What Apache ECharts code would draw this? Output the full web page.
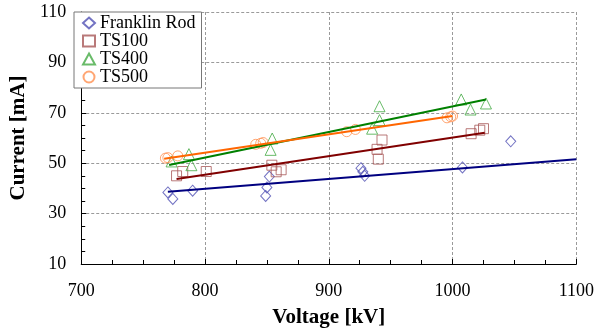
<!DOCTYPE html>
<html>
<head>
<meta charset="utf-8">
<script src="https://cdn.jsdelivr.net/npm/echarts@6/dist/echarts.min.js"></script>
<style>
html,body{margin:0;padding:0;background:#fff;}
#chart{width:597px;height:333px;}
</style>
</head>
<body>
<div id="chart"></div>
<script>
// ---- data (voltage kV, current mA) ----
const franklinV = [770, 774, 790, 849, 850, 852, 926, 927.5, 929, 1008, 1047];
const franklinI = [38.4, 35.8, 39.1, 37.0, 40.4, 44.7, 48.0, 46.6, 45.0, 48.3, 58.7];

const ts100V = [777, 782, 801, 854, 857.5, 861.5, 939, 940, 943, 1015, 1022, 1025];
const ts100I = [45.0, 46.7, 46.7, 49.2, 46.6, 47.4, 55.5, 51.6, 59.2, 61.7, 63.1, 63.7];

const ts400V = [773, 787, 789, 853, 854.3, 935, 941, 941, 1007, 1014.5, 1027];
const ts400I = [50.7, 53.6, 49.2, 55.3, 59.8, 63.7, 67.1, 72.6, 75.3, 71.3, 73.7];

const ts500V = [768, 770, 778, 841, 845, 847, 914.5, 921.5, 995.5, 998.5, 1000];
const ts500I = [52.0, 52.2, 52.9, 57.5, 57.9, 58.2, 62.5, 63.4, 68.0, 68.4, 68.7];

// trend lines (end points)
const franklinFitV = [770, 1100];
const franklinFitI = [38.7, 51.6];
const ts100FitV = [777, 1026];
const ts100FitI = [43.7, 62.1];
const ts400FitV = [771, 1027];
const ts400FitI = [49.3, 75.3];
const ts500FitV = [767, 1000];
const ts500FitI = [51.8, 68.7];

const seriesNames = ['Franklin Rod', 'TS100', 'TS400', 'TS500'];
const xTicks = [700, 800, 900, 1000, 1100];
const yTicks = [10, 30, 50, 70, 90, 110];

// ---- build ----
const zip = (a, b) => a.map((v, i) => [v, b[i]]);
const FONT = 'Liberation Serif';

const groups = [
  {name: seriesNames[0], v: franklinV, i: franklinI, fv: franklinFitV, fi: franklinFitI, symbol: 'diamond', size: [10, 11], mc: '#5050b4', lc: '#000080'},
  {name: seriesNames[1], v: ts100V, i: ts100I, fv: ts100FitV, fi: ts100FitI, symbol: 'rect', size: 10, mc: '#a85858', lc: '#800000'},
  {name: seriesNames[2], v: ts400V, i: ts400I, fv: ts400FitV, fi: ts400FitI, symbol: 'triangle', size: 11, mc: '#44aa44', lc: '#008000'},
  {name: seriesNames[3], v: ts500V, i: ts500I, fv: ts500FitV, fi: ts500FitI, symbol: 'circle', size: 10, mc: '#ff9050', lc: '#ff6600'}
];

const series = [];
groups.forEach(g => {
  series.push({
    name: g.name,
    type: 'scatter',
    symbol: g.symbol,
    symbolSize: g.size,
    data: zip(g.v, g.i),
    itemStyle: {color: 'rgba(255,255,255,0)', borderColor: g.mc, borderWidth: 1},
    z: 2,
    silent: true
  });
});
groups.forEach(g => {
  series.push({
    type: 'line',
    data: zip(g.fv, g.fi),
    showSymbol: false,
    symbol: 'none',
    lineStyle: {color: g.lc, width: 2},
    z: 3,
    silent: true
  });
});

const axisCommon = {
  axisLine: {show: true, lineStyle: {color: '#000', width: 1}},
  axisTick: {show: true, inside: true, length: 5, lineStyle: {color: '#000'}},
  minorTick: {show: true, splitNumber: 4, length: 4, lineStyle: {color: '#000'}},
  splitLine: {show: true, lineStyle: {color: '#9a9a9a', type: [3, 2], width: 1}},
  axisLabel: {color: '#000', fontFamily: FONT, fontSize: 18, formatter: v => String(v)},
  nameLocation: 'middle',
  nameTextStyle: {color: '#000', fontFamily: FONT, fontSize: 21, fontWeight: 'bold'}
};

const option = {
  animation: false,
  backgroundColor: '#fff',
  grid: {left: 74, right: 19, top: 12, bottom: 68, containLabel: false},
  legend: {
    show: true,
    data: seriesNames,
    orient: 'vertical',
    left: 74,
    top: 12,
    backgroundColor: '#fff',
    borderColor: '#777',
    borderWidth: 1,
    padding: [2, 6, 2, 8],
    itemGap: 0,
    itemWidth: 12,
    itemHeight: 11,
    textStyle: {color: '#000', fontFamily: FONT, fontSize: 18, lineHeight: 18},
    selectedMode: false
  },
  xAxis: Object.assign({}, axisCommon, {
    type: 'value',
    min: xTicks[0],
    max: xTicks[xTicks.length - 1],
    interval: xTicks[1] - xTicks[0],
    name: 'Voltage [kV]',
    nameGap: 43,
    axisLabel: Object.assign({}, axisCommon.axisLabel, {margin: 18})
  }),
  yAxis: Object.assign({}, axisCommon, {
    type: 'value',
    min: yTicks[0],
    max: yTicks[yTicks.length - 1],
    interval: yTicks[1] - yTicks[0],
    name: 'Current [mA]',
    nameGap: 47,
    axisLabel: Object.assign({}, axisCommon.axisLabel, {margin: 15})
  }),
  series: series
};

const chart = echarts.init(document.getElementById('chart'), null, {renderer: 'canvas'});
chart.setOption(option);
</script>
</body>
</html>
